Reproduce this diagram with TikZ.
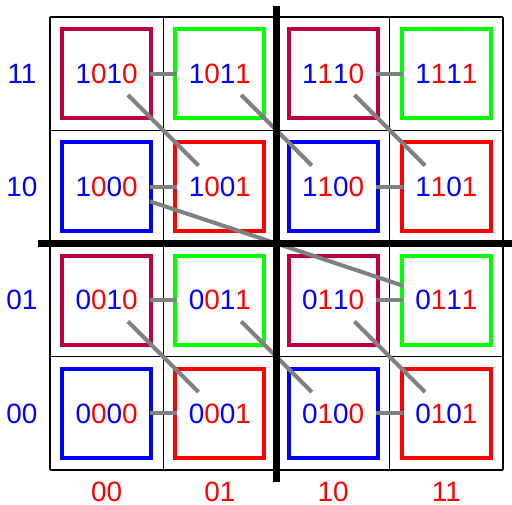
\documentclass[tikz,border=0pt]{standalone}
\usepackage{fontspec}
\setmainfont{Liberation Sans}
\newcommand\bitlbl[4]{\textcolor{blue}{#1}\textcolor{red}{#2}\textcolor{blue}{#3}\textcolor{red}{#4}}
\begin{document}
\begin{tikzpicture}[x=0.02cm,y=-0.02cm,
  font=\fontsize{15.9}{19}\selectfont,
  cell/.style={draw=none, minimum width=1.72cm, minimum height=0.84cm, inner sep=0pt},
  sq/.style={draw, line width=2.3pt, minimum size=1.78cm, inner sep=0pt},
  link/.style={gray, line width=2.3pt},
  axisline/.style={line width=4pt},
  gridline/.style={line width=0.6pt},
  rowlbl/.style={text=blue},
  collbl/.style={text=red}]
\useasboundingbox (0,0) rectangle (512,505);
% grid
\foreach \i in {0,...,4} {
  \draw[gridline] ({50+113.25*\i},17) -- ({50+113.25*\i},470);
  \draw[gridline] (50,{17+113.25*\i}) -- (503,{17+113.25*\i});
}
% squares
\node[sq, draw=purple] (s1010) at (106.6,73.6) {};
\node[sq, draw=green]  (s1011) at (219.9,73.6) {};
\node[sq, draw=purple] (s1110) at (333.1,73.6) {};
\node[sq, draw=green]  (s1111) at (446.4,73.6) {};
\node[sq, draw=blue]   (s1000) at (106.6,186.9) {};
\node[sq, draw=red]    (s1001) at (219.9,186.9) {};
\node[sq, draw=blue]   (s1100) at (333.1,186.9) {};
\node[sq, draw=red]    (s1101) at (446.4,186.9) {};
\node[sq, draw=purple] (s0010) at (106.6,300.1) {};
\node[sq, draw=green]  (s0011) at (219.9,300.1) {};
\node[sq, draw=purple] (s0110) at (333.1,300.1) {};
\node[sq, draw=green]  (s0111) at (446.4,300.1) {};
\node[sq, draw=blue]   (s0000) at (106.6,413.4) {};
\node[sq, draw=red]    (s0001) at (219.9,413.4) {};
\node[sq, draw=blue]   (s0100) at (333.1,413.4) {};
\node[sq, draw=red]    (s0101) at (446.4,413.4) {};
% labels in cells
\node[cell] (n1010) at (106.6,73.6) {\bitlbl1010};
\node[cell] (n1011) at (219.9,73.6) {\bitlbl1011};
\node[cell] (n1110) at (333.1,73.6) {\bitlbl1110};
\node[cell] (n1111) at (446.4,73.6) {\bitlbl1111};
\node[cell] (n1000) at (106.6,186.9) {\bitlbl1000};
\node[cell] (n1001) at (219.9,186.9) {\bitlbl1001};
\node[cell] (n1100) at (333.1,186.9) {\bitlbl1100};
\node[cell] (n1101) at (446.4,186.9) {\bitlbl1101};
\node[cell] (n0010) at (106.6,300.1) {\bitlbl0010};
\node[cell] (n0011) at (219.9,300.1) {\bitlbl0011};
\node[cell] (n0110) at (333.1,300.1) {\bitlbl0110};
\node[cell] (n0111) at (446.4,300.1) {\bitlbl0111};
\node[cell] (n0000) at (106.6,413.4) {\bitlbl0000};
\node[cell] (n0001) at (219.9,413.4) {\bitlbl0001};
\node[cell] (n0100) at (333.1,413.4) {\bitlbl0100};
\node[cell] (n0101) at (446.4,413.4) {\bitlbl0101};
% row and column labels
\node[rowlbl] (r11) at (22,73.6) {11};
\node[rowlbl] (r10) at (22,186.9) {10};
\node[rowlbl] (r01) at (22,300.1) {01};
\node[rowlbl] (r00) at (22,413.4) {00};
\node[collbl] (c00) at (106.6,492) {00};
\node[collbl] (c01) at (219.9,492) {01};
\node[collbl] (c10) at (333.1,492) {10};
\node[collbl] (c11) at (446.4,492) {11};
% connectors
\draw[link] (n1010) -- (n1011);
\draw[link] (n1110) -- (n1111);
\draw[link] (n1000) -- (n1001);
\draw[link] (n1100) -- (n1101);
\draw[link] (n0010) -- (n0011);
\draw[link] (n0110) -- (n0111);
\draw[link] (n0000) -- (n0001);
\draw[link] (n0100) -- (n0101);
\draw[link] (n1010) -- (n1001);
\draw[link] (n1011) -- (n1100);
\draw[link] (n1110) -- (n1101);
\draw[link] (n1000) -- (n0111);
\draw[link] (n0010) -- (n0001);
\draw[link] (n0011) -- (n0100);
\draw[link] (n0110) -- (n0101);
% thick axes
\coordinate (vt) at (276.5,6);
\coordinate (vb) at (276.5,482);
\coordinate (hl) at (38,243.5);
\coordinate (hr) at (515,243.5);
\draw[axisline] (vt) -- (vb);
\draw[axisline] (hl) -- (hr);
\end{tikzpicture}
\end{document}
